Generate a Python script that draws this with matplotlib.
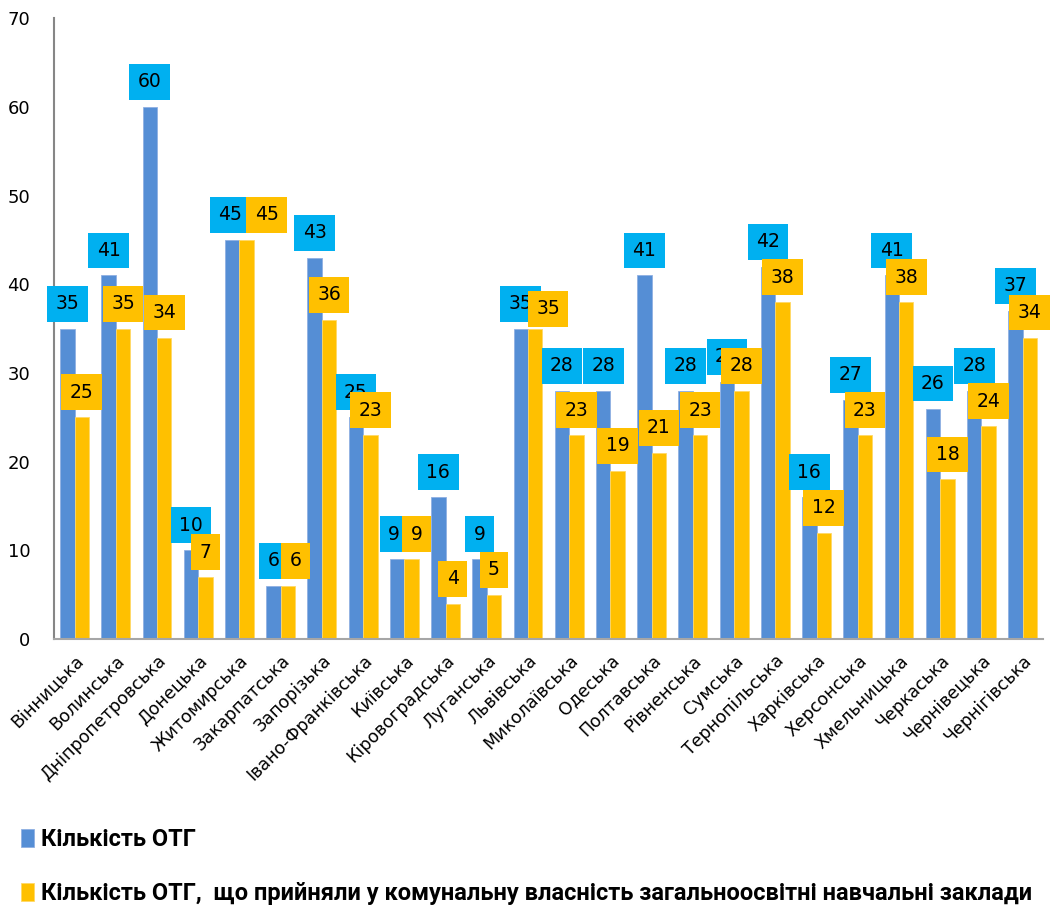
import numpy as np
from matplotlib import pyplot as plt

regions = ['Вінницька', 'Волинська', 'Дніпропетровська', 'Донецька', 'Житомирська',
           'Закарпатська', 'Запорізька', 'Івано-Франківська', 'Київська', 'Кіровоградська',
           'Луганська', 'Львівська', 'Миколаївська', 'Одеська', 'Полтавська', 'Рівненська',
           'Сумська', 'Тернопільська', 'Харківська', 'Херсонська', 'Хмельницька',
           'Черкаська', 'Чернівецька', 'Чернігівська']
otg_total = [35, 41, 60, 10, 45, 6, 43, 25, 9, 16, 9, 35, 28, 28, 41, 28, 29, 42, 16, 27, 41, 26, 28, 37]
otg_schools = [25, 35, 34, 7, 45, 6, 36, 23, 9, 4, 5, 35, 23, 19, 21, 23, 28, 38, 12, 23, 38, 18, 24, 34]

label_total = 'Кількість ОТГ'
label_schools = 'Кількість ОТГ,  що прийняли у комунальну власність загальноосвітні навчальні заклади'

BAR_BLUE = '#558ED5'
BAR_YELLOW = '#FFC000'
BOX_BLUE = '#00B0F0'
BOX_YELLOW = '#FFC000'

# label nudges (pixels) where both labels sit at the same height
yellow_nudge = {4: (20, 0), 5: (8, 0), 8: (5, 0), 11: (13, -5)}
blue_nudge = {4: (-2, 0), 8: (-3, 0)}

plt.rcParams['font.family'] = ['DejaVu Sans']

fig = plt.figure(figsize=(10.57, 9.13), dpi=100)
ax = fig.add_axes([0.051, 0.300, 0.936, 0.680])

x = np.arange(len(regions))
w = 0.35
ax.bar(x - w / 2, otg_total, w, color=BAR_BLUE, edgecolor='#8FB0E3', linewidth=0.6,
       label=label_total, zorder=2)
ax.bar(x + w / 2, otg_schools, w, color=BAR_YELLOW, edgecolor='#FFD966', linewidth=0.6,
       label=label_schools, zorder=2)

for i, v in enumerate(otg_total):
    dx, dy = blue_nudge.get(i, (0, 0))
    ax.annotate(str(v), (x[i] - w / 2, v), xytext=(dx, 25 + dy), textcoords='offset pixels',
                ha='center', va='center', fontsize=13.5, color='black', zorder=5,
                bbox=dict(boxstyle='square,pad=0.45', fc=BOX_BLUE, ec='none'))
for i, v in enumerate(otg_schools):
    dx, dy = yellow_nudge.get(i, (0, 0))
    ax.annotate(str(v), (x[i] + w / 2, v), xytext=(dx, 25 + dy), textcoords='offset pixels',
                ha='center', va='center', fontsize=13.5, color='black', zorder=6,
                bbox=dict(boxstyle='square,pad=0.45', fc=BOX_YELLOW, ec='none'))

ax.set_xlim(-0.5, len(regions) - 0.5)
ax.set_ylim(0, 70)
ax.set_yticks(range(0, 71, 10))
ax.tick_params(axis='y', length=0, labelsize=13, pad=17)
ax.tick_params(axis='x', length=0, labelsize=12.5, pad=9)
ax.set_xticks(x)
ax.set_xticklabels(regions, rotation=45, ha='right', rotation_mode='anchor')

for s in ['top', 'right']:
    ax.spines[s].set_visible(False)
ax.spines['left'].set_color('#868686')
ax.spines['bottom'].set_color('#A6A6A6')
ax.spines['left'].set_linewidth(1.5)
ax.spines['bottom'].set_linewidth(1.5)

fig.legend(loc='upper left', bbox_to_anchor=(0.0, 0.116), frameon=False,
           handlelength=0.55, handleheight=0.8, handletextpad=0.3, labelspacing=1.3,
           prop={'family': ['Roboto', 'DejaVu Sans'], 'weight': 'bold', 'size': 17})

fig.savefig('out.png', dpi=100)
